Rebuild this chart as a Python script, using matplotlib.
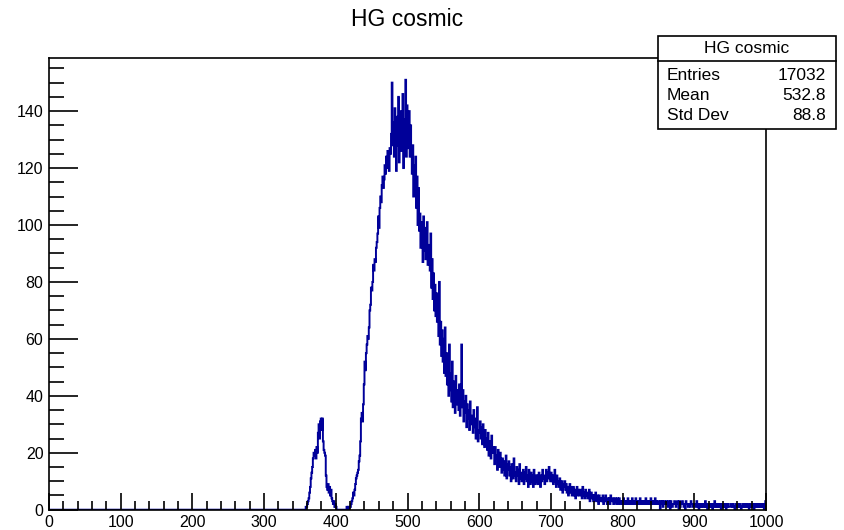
import numpy as np
import matplotlib
matplotlib.use("Agg")
import matplotlib.pyplot as plt
from matplotlib.ticker import MultipleLocator
from matplotlib.patches import Rectangle

plt.rcParams['font.family'] = ['Liberation Sans', 'DejaVu Sans']

# histogram definition: 1000 bins from 0 to 1000
x_min, x_max, n_bins = 0, 1000, 1000
first_bin = 350  # bins below this are empty

# bin contents, rows of 10 bins starting at bin 350
counts_from_350 = [
    0, 0, 0, 0, 0, 0, 0, 0, 1, 1,
    2, 3, 4, 6, 8, 11, 13, 15, 18, 20,
    19, 21, 18, 22, 20, 27, 30, 25, 31, 32,
    28, 32, 24, 21, 20, 19, 12, 8, 7, 9,
    6, 8, 5, 7, 4, 3, 2, 3, 1, 2,
    1, 0, 0, 0, 0, 0, 0, 0, 0, 0,
    0, 0, 0, 0, 0, 1, 0, 1, 0, 1,
    1, 2, 3, 4, 6, 5, 7, 9, 11, 12,
    13, 14, 17, 19, 24, 32, 34, 31, 37, 44,
    52, 49, 55, 58, 61, 60, 64, 70, 72, 78,      # 440
    77, 80, 86, 84, 88, 87, 92, 94, 97, 103,
    99, 106, 110, 108, 114, 117, 113, 116, 121, 118,
    124, 120, 126, 123, 119, 127, 125, 132, 150, 128,
    136, 124, 141, 130, 119, 138, 128, 145, 122, 133,
    140, 126, 131, 146, 120, 137, 129, 151, 124, 142,
    133, 127, 140, 124, 135, 125, 118, 128, 110, 121,  # 500
    112, 124, 106, 117, 100, 113, 98, 104, 92, 101,
    96, 87, 103, 91, 99, 88, 95, 101, 86, 93,
    90, 84, 97, 78, 88, 74, 83, 70, 79, 68,
    76, 66, 72, 61, 80, 58, 66, 54, 63, 52,
    60, 48, 64, 47, 55, 44, 52, 40, 58, 42,
    48, 38, 52, 36, 45, 41, 34, 47, 37, 42,
    40, 35, 44, 33, 39, 58, 36, 42, 31, 38,
    34, 40, 29, 37, 32, 35, 28, 38, 30, 33,
    31, 27, 35, 29, 32, 25, 30, 36, 24, 28,
    27, 31, 25, 29, 23, 30, 26, 22, 28, 24,      # 600
    25, 21, 27, 19, 24, 23, 18, 26, 20, 22,
    20, 16, 22, 18, 19, 14, 21, 17, 15, 20,
    16, 13, 18, 14, 17, 12, 15, 19, 11, 16,
    14, 17, 12, 15, 10, 16, 13, 11, 18, 12,
    13, 10, 15, 12, 14, 9, 16, 11, 13, 10,
    12, 14, 9, 13, 11, 15, 10, 12, 8, 14,
    11, 9, 13, 10, 12, 8, 14, 11, 9, 12,
    10, 12, 9, 13, 11, 8, 12, 10, 14, 11,
    12, 9, 11, 14, 10, 13, 11, 15, 12, 10,
    13, 10, 12, 9, 11, 14, 10, 8, 12, 9,         # 700
    10, 8, 11, 7, 9, 10, 6, 9, 8, 10,
    7, 9, 6, 8, 5, 7, 9, 6, 8, 5,
    6, 8, 5, 7, 4, 6, 8, 5, 7, 6,
    5, 7, 6, 4, 8, 5, 6, 4, 7, 5,
    6, 4, 5, 7, 3, 5, 6, 4, 5, 3,
    5, 4, 6, 3, 5, 4, 2, 5, 4, 3,
    4, 3, 5, 2, 4, 3, 5, 3, 2, 4,
    3, 4, 2, 5, 3, 3, 4, 2, 3, 4,
    3, 2, 4, 3, 2, 4, 3, 2, 3, 3,
    2, 4, 3, 2, 3, 3, 2, 4, 2, 3,                # 800
    3, 2, 3, 4, 2, 2, 3, 2, 4, 3,
    2, 3, 2, 3, 4, 2, 2, 3, 2, 3,
    3, 2, 4, 2, 3, 2, 3, 2, 2, 4,
    2, 3, 2, 2, 3, 4, 2, 3, 2, 2,
    3, 2, 0, 3, 2, 3, 1, 2, 3, 2,
    2, 3, 2, 1, 3, 2, 0, 3, 2, 1,
    2, 2, 3, 2, 1, 2, 3, 2, 0, 3,
    1, 2, 2, 3, 2, 1, 2, 0, 3, 2,
    2, 1, 2, 2, 1, 3, 2, 2, 1, 2,
    2, 2, 1, 3, 2, 1, 0, 2, 1, 2,                # 900
    1, 2, 2, 1, 2, 3, 1, 2, 0, 1,
    2, 1, 2, 2, 1, 0, 2, 1, 3, 2,
    1, 2, 1, 2, 2, 1, 2, 0, 1, 2,
    2, 1, 2, 1, 0, 2, 1, 2, 1, 1,
    1, 2, 2, 1, 2, 1, 0, 1, 2, 2,
    1, 2, 1, 2, 1, 0, 1, 2, 2, 1,
    2, 1, 2, 1, 1, 2, 0, 1, 2, 1,
    1, 2, 1, 0, 2, 1, 1, 2, 1, 2,
    1, 2, 1, 1, 2, 1, 2, 0, 1, 3,
]

title = "HG cosmic"
stats_labels = ["Entries", "Mean", "Std Dev"]
stats_values = ["17032", "532.8", "88.8"]

counts = np.zeros(n_bins)
counts[first_bin:first_bin + len(counts_from_350)] = counts_from_350
edges = np.linspace(x_min, x_max, n_bins + 1)

W, H = 844, 530
fig = plt.figure(figsize=(W / 100, H / 100), dpi=100)

def fx(px): return px / W
def fy(py): return 1 - py / H

ax = fig.add_axes([fx(49), fy(509.7), fx(766) - fx(49), fy(58.3) - fy(509.7)])
ax.stairs(counts, edges, color='#000099', lw=1.4)
ax.set_xlim(x_min, x_max)
ax.set_ylim(0, counts.max() * 1.05)

ax.xaxis.set_major_locator(MultipleLocator(100))
ax.xaxis.set_minor_locator(MultipleLocator(20))
ax.yaxis.set_major_locator(MultipleLocator(20))
ax.yaxis.set_minor_locator(MultipleLocator(5))
ax.tick_params(axis='x', which='major', direction='in', length=12.5, width=1.2, labelsize=11.5, pad=4)
ax.tick_params(axis='x', which='minor', direction='in', length=6.5, width=1.2)
ax.tick_params(axis='y', which='major', direction='in', length=21, width=1.2, labelsize=11.5, pad=4)
ax.tick_params(axis='y', which='minor', direction='in', length=10.5, width=1.2)
for s in ax.spines.values():
    s.set_linewidth(1.2)

fig.text(fx(407), fy(20), title, ha='center', va='center', fontsize=16.5)

# stats box
box_l, box_r, box_t, box_h, box_b = 658, 836, 36, 61, 129
fig.patches.append(Rectangle((fx(box_l), fy(box_b)), fx(box_r) - fx(box_l), fy(box_t) - fy(box_b),
                             transform=fig.transFigure, facecolor='white', edgecolor='black', lw=1.2, zorder=5))
fig.add_artist(plt.Line2D([fx(box_l), fx(box_r)], [fy(box_h), fy(box_h)], transform=fig.transFigure,
                          color='black', lw=1.2, zorder=6))
fig.text(fx((box_l + box_r) / 2), fy(48.5), title, ha='center', va='center', fontsize=12.5, zorder=7)
for i, (lab, val) in enumerate(zip(stats_labels, stats_values)):
    yy = fy(75 + 20 * i)
    fig.text(fx(667), yy, lab, ha='left', va='center', fontsize=12.5, zorder=7)
    fig.text(fx(826), yy, val, ha='right', va='center', fontsize=12.5, zorder=7)

fig.savefig("out.png", dpi=100)
